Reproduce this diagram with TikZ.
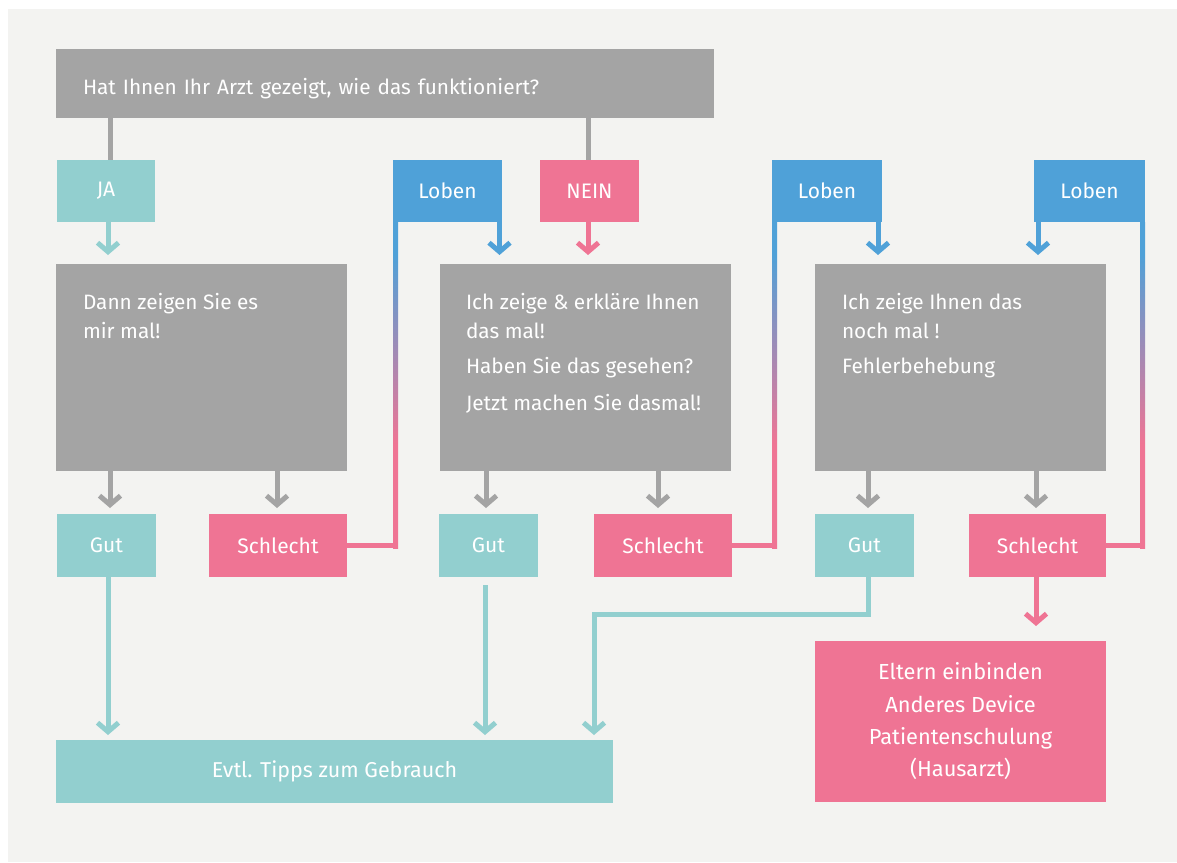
\documentclass[tikz,border=0pt]{standalone}
\usepackage{fontspec}
\setmainfont{Fira Sans}
\usetikzlibrary{arrows.meta,calc}
\definecolor{bgc}{HTML}{F3F3F1}
\definecolor{cgray}{HTML}{A4A4A4}
\definecolor{cteal}{HTML}{92CFCF}
\definecolor{cpink}{HTML}{EF7494}
\definecolor{cblue}{HTML}{4FA1D8}
\pgfdeclareverticalshading{lobgrad}{100bp}{color(0bp)=(cpink); color(41bp)=(cpink); color(70bp)=(cblue); color(100bp)=(cblue)}
\begin{document}
\begin{tikzpicture}[x=1pt,y=-1pt,
  every node/.style={inner sep=0pt,outer sep=0pt},
  boxbase/.style={rectangle,text=white,font=\fontsize{21}{24}\selectfont},
  graybox/.style={boxbase,fill=cgray},
  tealbox/.style={boxbase,fill=cteal},
  pinkbox/.style={boxbase,fill=cpink},
  bluebox/.style={boxbase,fill=cblue},
  small/.style={minimum height=63pt},
  txt/.style={text=white,anchor=base west,font=\fontsize{20.8}{24}\selectfont},
  conn/.style={line width=5pt},
  garr/.style={conn,draw=cgray,-{Straight Barb[length=9pt,width=21pt]}},
  tarr/.style={conn,draw=cteal,-{Straight Barb[length=9pt,width=21pt]}},
  parr/.style={conn,draw=cpink,-{Straight Barb[length=9pt,width=21pt]}},
  barr/.style={conn,draw=cblue,-{Straight Barb[length=9pt,width=21pt]}},
]
\useasboundingbox (0,0) rectangle (1177,862);
\fill[white] (0,0) rectangle (1177,862);
\fill[bgc] (8,9) rectangle (1177,862);

% top question
\node[graybox,minimum height=69pt,text width=604pt,inner xsep=27pt,align=left,text height=22pt,text depth=0pt,font=\fontsize{20.8}{24}\selectfont] (top) at (385,83.5) {Hat Ihnen Ihr Arzt gezeigt, wie das funktioniert?};

% second row
\node[tealbox,minimum width=98pt,minimum height=62pt] (ja) at (106,191) {JA};
\node[bluebox,minimum width=109pt,minimum height=62pt] (lob1) at (447.5,191) {Loben};
\node[pinkbox,minimum width=99pt,minimum height=62pt] (nein) at (589.5,191) {NEIN};
\node[bluebox,minimum width=110pt,minimum height=62pt] (lob2) at (827,191) {Loben};
\node[bluebox,minimum width=111pt,minimum height=62pt] (lob3) at (1089.5,191) {Loben};

% gray boxes
\node[graybox,minimum width=291pt,minimum height=207pt] (b1) at (201.5,367.5) {};
\node[graybox,minimum width=291pt,minimum height=207pt] (b2) at (585.5,367.5) {};
\node[graybox,minimum width=291pt,minimum height=207pt] (b3) at (960.5,367.5) {};

\node[txt] (b1t1) at ([xshift=27pt,yshift=-45pt]b1.north west) {Dann zeigen Sie es};
\node[txt] (b1t2) at ([xshift=27pt,yshift=-74pt]b1.north west) {mir mal!};
\node[txt] (b2t1) at ([xshift=26pt,yshift=-45pt]b2.north west) {Ich zeige \& erkläre Ihnen};
\node[txt] (b2t2) at ([xshift=26pt,yshift=-74pt]b2.north west) {das mal!};
\node[txt] (b2t3) at ([xshift=26pt,yshift=-109.5pt]b2.north west) {Haben Sie das gesehen?};
\node[txt] (b2t4) at ([xshift=26pt,yshift=-146pt]b2.north west) {Jetzt machen Sie dasmal!};
\node[txt] (b3t1) at ([xshift=27pt,yshift=-45pt]b3.north west) {Ich zeige Ihnen das};
\node[txt] (b3t2) at ([xshift=27pt,yshift=-74pt]b3.north west) {noch mal !};
\node[txt] (b3t3) at ([xshift=27pt,yshift=-109.5pt]b3.north west) {Fehlerbehebung};

% result row
\node[tealbox,small,minimum width=99pt] (gut1) at (106.5,545.5) {Gut};
\node[pinkbox,small,minimum width=138pt] (sch1) at (278,545.5) {Schlecht};
\node[tealbox,small,minimum width=99pt] (gut2) at (488.5,545.5) {Gut};
\node[pinkbox,small,minimum width=138pt] (sch2) at (663,545.5) {Schlecht};
\node[tealbox,small,minimum width=99pt] (gut3) at (864.5,545.5) {Gut};
\node[pinkbox,small,minimum width=137pt] (sch3) at (1037.5,545.5) {Schlecht};

% bottom boxes
\node[tealbox,small,minimum width=557pt,font=\fontsize{21.5}{24}\selectfont] (evtl) at (334.5,771.5) {Evtl. Tipps zum Gebrauch};
\node[pinkbox,minimum width=291pt,minimum height=161pt,align=center,font=\fontsize{21.8}{32.3}\selectfont] (elt) at (960.5,721.5) {Eltern einbinden\\Anderes Device\\Patientenschulung\\(Hausarzt)};

% connectors top -> row 2
\draw[conn,cgray] ([xshift=54pt]top.south west) -- ([xshift=53pt]ja.north west);
\draw[conn,cgray] ([xshift=532pt]top.south west) -- ([xshift=48pt]nein.north west);

% row 2 -> gray boxes
\draw[tarr] ([xshift=51pt]ja.south west) -- ([xshift=52pt,yshift=9pt]b1.north west);
\draw[barr] ([xshift=-2.5pt]lob1.south east) -- ([xshift=59.5pt,yshift=9pt]b2.north west);
\draw[parr] ([xshift=48pt]nein.south west) -- ([xshift=148pt,yshift=9pt]b2.north west);
\draw[barr] ([xshift=-4pt]lob2.south east) -- ([xshift=63pt,yshift=9pt]b3.north west);
\draw[barr] ([xshift=4pt]lob3.south west) -- ([xshift=223pt,yshift=9pt]b3.north west);

% gray boxes -> results
\draw[garr] ([xshift=54pt]b1.south west) -- ([xshift=53pt,yshift=6pt]gut1.north west);
\draw[garr] ([xshift=221pt]b1.south west) -- ([xshift=68pt,yshift=6pt]sch1.north west);
\draw[garr] ([xshift=46pt]b2.south west) -- ([xshift=47pt,yshift=6pt]gut2.north west);
\draw[garr] ([xshift=218pt]b2.south west) -- ([xshift=64pt,yshift=6pt]sch2.north west);
\draw[garr] ([xshift=53pt]b3.south west) -- ([xshift=53pt,yshift=6pt]gut3.north west);
\draw[garr] ([xshift=221pt]b3.south west) -- ([xshift=67pt,yshift=6pt]sch3.north west);

% Schlecht -> Loben (pink to blue)
\draw[conn,cpink] (sch1.east) -| ([xshift=2.5pt]lob1.south west);
\shade[shading=lobgrad] (lob1.south west) rectangle ($(lob1.south west |- sch1.east)+(5,2.5)$);
\draw[conn,cpink] (sch2.east) -| ([xshift=2.5pt]lob2.south west);
\shade[shading=lobgrad] (lob2.south west) rectangle ($(lob2.south west |- sch2.east)+(5,2.5)$);
\draw[conn,cpink] (sch3.east) -| ([xshift=-2.5pt]lob3.south east);
\shade[shading=lobgrad] (lob3.south east) rectangle ($(lob3.south east |- sch3.east)+(-5,2.5)$);

% results -> bottom
\draw[tarr] ([xshift=51pt]gut1.south west) -- ([xshift=52pt,yshift=5pt]evtl.north west);
\draw[tarr] ([xshift=46pt,yshift=-8pt]gut2.south west) -- ([xshift=429pt,yshift=5pt]evtl.north west);
\draw[tarr] ([xshift=53pt]gut3.south west) -- ++(0,37) -| ([xshift=538pt,yshift=5pt]evtl.north west);
\draw[parr] ([xshift=-1.5pt]sch3.south) -- ([xshift=221pt,yshift=15pt]elt.north west);
\end{tikzpicture}
\end{document}
